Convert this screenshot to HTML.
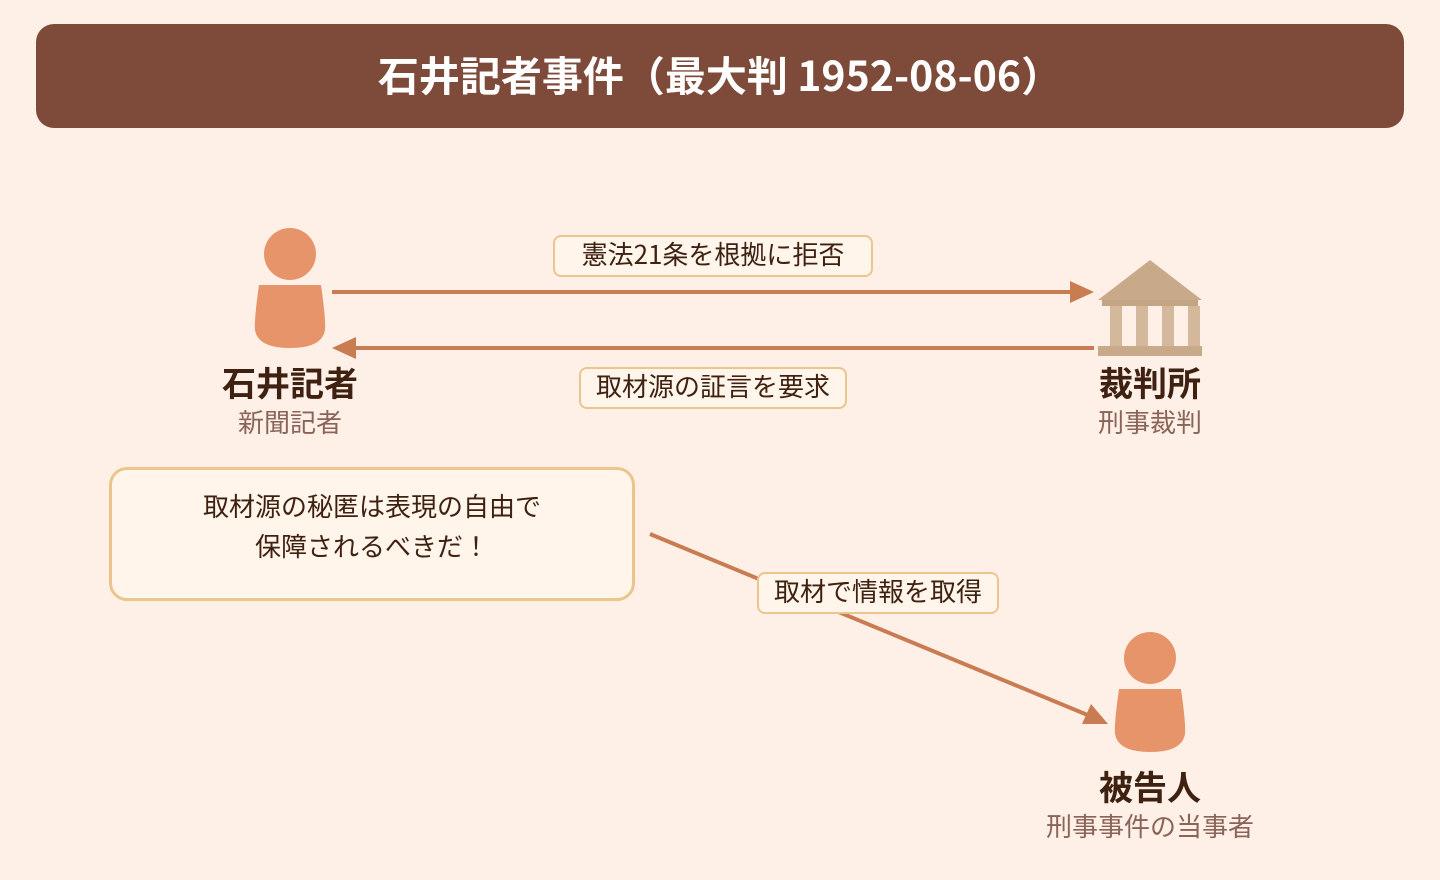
<!DOCTYPE html>
<html><head><meta charset="utf-8"><style>
body{margin:0;width:1440px;height:880px;background:#fef0e7;font-family:"Noto Sans CJK JP","Liberation Sans",sans-serif;position:relative;overflow:hidden}
.hdr{position:absolute;left:36px;top:24px;width:1368px;height:104px;background:#7e4a39;border-radius:18px;color:#fff;font-weight:bold;font-size:41px;text-align:center;line-height:98px}
.t{position:absolute;text-align:center;white-space:nowrap;line-height:1.2}
.name{font-weight:bold;font-size:34px;color:#3f2112}
.sub{font-size:26px;color:#8a6458}
.lbl{position:absolute;background:#fff5ea;border:2px solid #ebc58e;border-radius:8px;font-size:26px;color:#3f2112;text-align:center;box-sizing:border-box;line-height:34px;white-space:nowrap}
</style></head><body>
<div class="hdr">石井記者事件（最大判 1952-08-06）</div>
<svg width="1440" height="880" style="position:absolute;left:0;top:0">
<g fill="#e8946a">
<circle cx="290" cy="254" r="26"/>
<path d="M259 285 L321 285 Q326 320 325 330 Q322 348 290 348 Q258 348 255 330 Q254 320 259 285Z"/>
<circle cx="1150" cy="658" r="26"/>
<path d="M1119 689 L1181 689 Q1186 724 1185 734 Q1182 752 1150 752 Q1118 752 1115 734 Q1114 724 1119 689Z"/>
</g>
<polygon points="1150,260 1098,300 1202,300" fill="#c8aa8a"/>
<rect x="1102" y="300" width="96" height="6" fill="#c4a582"/>
<g fill="#d4b89b"><rect x="1110" y="306" width="12" height="40"/><rect x="1136" y="306" width="12" height="40"/><rect x="1162" y="306" width="12" height="40"/><rect x="1188" y="306" width="12" height="40"/></g>
<rect x="1098" y="346" width="104" height="10" fill="#c8aa8a"/>
<g stroke="#c97c52" stroke-width="4" fill="#c97c52">
<line x1="332" y1="292" x2="1072" y2="292"/>
<line x1="1094" y1="348" x2="354" y2="348"/>
<line x1="650" y1="534" x2="1090" y2="716"/>
</g>
<g fill="#c97c52">
<polygon points="1094,292 1070,281 1070,303"/>
<polygon points="332,348 356,337 356,359"/>
<polygon points="1108,724 1082,724 1091,704"/>
</g>
</svg>
<div class="lbl" style="left:553px;top:235px;width:320px;height:42px">憲法21条を根拠に拒否</div>
<div class="lbl" style="left:579px;top:367px;width:268px;height:42px">取材源の証言を要求</div>
<div class="lbl" style="left:757px;top:572px;width:242px;height:42px">取材で情報を取得</div>
<div style="position:absolute;left:109px;top:467px;width:526px;height:134px;box-sizing:border-box;border:3px solid #ecc58d;border-radius:18px;background:#fff5ea;text-align:center;font-size:26px;color:#3f2112;line-height:40px;padding-top:16px">取材源の秘匿は表現の自由で<br>保障されるべきだ！</div>
<div class="t name" style="left:190px;width:200px;top:362px">石井記者</div>
<div class="t sub" style="left:190px;width:200px;top:406px">新聞記者</div>
<div class="t name" style="left:1050px;width:200px;top:362px">裁判所</div>
<div class="t sub" style="left:1050px;width:200px;top:406px">刑事裁判</div>
<div class="t name" style="left:1050px;width:200px;top:766px">被告人</div>
<div class="t sub" style="left:1000px;width:300px;top:810px">刑事事件の当事者</div>
</body></html>
